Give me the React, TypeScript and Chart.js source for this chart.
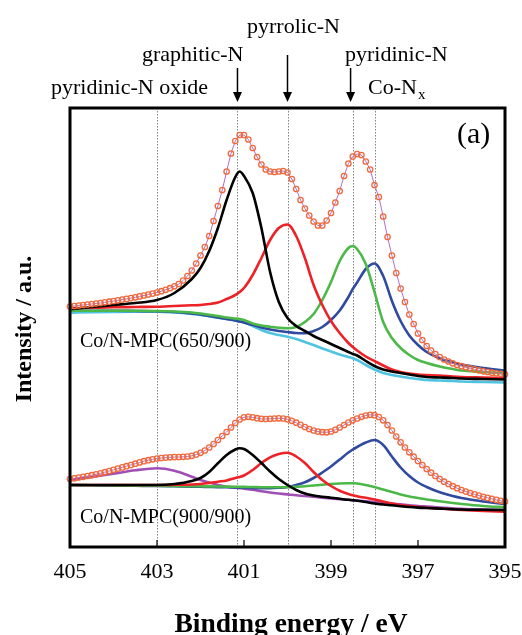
import React, { useEffect, useRef } from 'react';
import { Chart, registerables } from 'chart.js';

Chart.register(...registerables);

// Binding energy grid of the measured envelope (eV), 405 -> 395 every 0.1 eV
const energyFine: number[] = Array.from({ length: 101 }, (_, i) => Number((405 - i * 0.1).toFixed(1)));

// Energy grid of the fitted component curves (eV)
const energyFit: number[] = [405, 404.5, 404, 403.5, 403, 402.6, 402.2, 402.0, 401.8, 401.6, 401.4, 401.2, 401.1, 401.0, 400.8, 400.6, 400.4, 400.2, 400.0, 399.8, 399.6, 399.4, 399.2, 399.0, 398.8, 398.6, 398.5, 398.4, 398.2, 398.0, 397.8, 397.6, 397.4, 397.2, 397.0, 396.8, 396.5, 396.2, 396.0, 395.5, 395.0];

// Co/N-MPC(650/900) — measured envelope (a.u., offset)
const envelope650: number[] = [240.5, 241, 241.5, 242, 242.5, 243, 243.5, 244, 244.7, 245.3, 246, 246.7, 247.4, 248.1, 248.9, 249.7, 250.6, 251.5, 252.5, 253.4, 254.5, 255.8, 257.2, 258.8, 260.7, 263, 266.5, 271, 276.5, 283.5, 291.5, 300, 311, 326, 341, 357, 375.5, 393.5, 406, 412, 412, 407.5, 399, 390, 382.5, 377.5, 375.5, 375, 375.5, 376, 374.5, 368, 358, 347, 338.5, 331.5, 325.5, 321.5, 321.5, 326.5, 334, 344.5, 356, 371, 383.5, 390.5, 393, 392, 385.5, 377.5, 362, 350, 330.5, 310, 291.5, 274, 258.5, 245, 232.5, 223, 213.5, 207, 201, 196.5, 193, 190, 187.5, 185.5, 183.7, 182, 180.8, 179.7, 178.7, 177.7, 176.7, 175.7, 175, 174.3, 173.7, 173.2, 172.7];
const graphitic650: number[] = [237.7, 240, 242, 244, 247, 254, 268, 279, 296, 319, 347, 370, 375.5, 371, 354, 319, 275, 245, 229, 221, 216, 211, 207, 203, 199, 195, 193, 191.5, 186, 181, 177.5, 175.5, 174, 172.5, 171, 170, 169.5, 169, 168.5, 168, 167.5];
const pyrrolic650: number[] = [238.7, 239.2, 239.7, 240, 240.3, 241, 241.7, 242, 243, 244.5, 248, 252, 255, 259, 272, 289, 307, 319, 322.5, 311, 289, 262, 242, 226, 214, 204, 200, 196.5, 190.5, 186, 181.5, 177.5, 175, 173.5, 172.5, 172, 171.5, 170.5, 170, 169.5, 169];
const pyridinic650: number[] = [236.3, 236.3, 236.3, 236.3, 236, 235.5, 234.5, 233.5, 232.2, 231, 229.5, 228.5, 228, 227, 223.5, 221.5, 220.3, 219.2, 218.7, 220, 225, 233, 247, 265, 286, 299, 301, 298, 283, 255, 225, 209, 199, 192, 187, 184, 180.5, 178, 176.5, 175, 173.7];
const coNx650: number[] = [236.3, 236.3, 236.3, 236, 235.7, 235, 233.5, 232.5, 231, 229.5, 228, 226.5, 225.5, 224.5, 222, 219.5, 217.5, 216, 215, 214, 213.7, 216, 220, 227, 236.5, 250, 258, 264.5, 278, 283.5, 271, 246, 226, 211.5, 202, 195, 188.5, 184.5, 182.5, 179, 176.3];
const background650: number[] = [234.3, 234.7, 235, 235.2, 235.3, 234.5, 233, 232, 230.7, 229.2, 228, 226.5, 225.5, 224.5, 221, 217, 214, 212, 210.3, 208, 205, 202, 198.5, 195.5, 192.5, 190, 188.7, 187, 182, 177.5, 174, 172, 170.5, 169, 168, 167, 166.5, 166, 165.5, 165, 164.5];

// Co/N-MPC(900/900)
const envelope900: number[] = [68, 68.7, 69.5, 70.2, 71, 71.8, 72.7, 73.7, 74.8, 76, 77.2, 78.4, 79.6, 80.8, 82, 83.3, 84.6, 85.8, 86.8, 87.7, 88.5, 89, 89.4, 89.7, 89.9, 90, 90.2, 90.5, 91.2, 92.4, 94.2, 96.5, 99.5, 103, 107, 111, 115, 119.5, 124, 127.5, 129.7, 130.2, 129.7, 128.8, 128.2, 128, 128.2, 128.5, 128.7, 128.5, 127.7, 126.2, 124.3, 122.2, 120, 118, 116.5, 115.4, 114.8, 114.7, 115.5, 117.2, 119.5, 122, 124.5, 126.7, 128.5, 130.2, 131.5, 132.2, 131.8, 130, 126.7, 122, 116.5, 110.5, 104.7, 99.5, 94.7, 90.3, 86, 82, 78, 74.3, 71, 68, 65.3, 63, 60.8, 58.8, 57, 55.4, 54, 52.7, 51.4, 50.2, 49.1, 48.1, 47.1, 46.2, 45.4];
const graphitic900: number[] = [62, 62, 62, 62, 62, 63, 66, 69, 75, 83.7, 92, 97.5, 98.7, 98, 92, 84, 75.5, 68, 62, 57, 53.5, 51.5, 50.3, 49.3, 48.3, 47.2, 46.8, 46.3, 45, 43.5, 42.5, 41.7, 40.8, 40, 39.4, 39, 38.4, 37.8, 37.5, 37.2, 37];
const pyrrolic900: number[] = [62, 62, 62, 62, 62, 62.2, 62.5, 63, 64, 65.3, 66.5, 69, 70, 71.5, 77, 84, 89.7, 93, 94.3, 90.5, 84, 75, 67, 61, 56.3, 53, 51.7, 50.7, 49.2, 47.5, 45.5, 43.5, 42, 41, 40, 39.2, 38.5, 37.5, 37, 36, 35.3];
const pyridinic900: number[] = [62, 61.8, 61.6, 61.4, 61.2, 61, 60.8, 60.7, 60.6, 60.5, 60.4, 60.3, 60.2, 60.1, 60, 59.8, 59.7, 59.7, 59.8, 60.2, 60.7, 61.5, 62.3, 63, 63.5, 63.7, 63.7, 63.5, 62, 60, 57.5, 55, 52.5, 50.5, 49, 47.5, 45.7, 44, 43, 41, 39.7];
const coNx900: number[] = [62, 61.7, 61.4, 61.2, 61, 60.7, 60.4, 60.2, 60, 59.8, 59.7, 59.5, 59.4, 59.2, 59, 58.8, 58.8, 59.2, 60, 62, 64.7, 69, 74.5, 80.5, 87.5, 94.5, 97.5, 100, 104.5, 107, 102, 90.5, 79.5, 71, 64.5, 60, 54.7, 51, 49, 45.5, 43];
const oxide900: number[] = [67, 70, 73.3, 76.7, 78.7, 76.3, 70.3, 67, 64.5, 62, 60.3, 59.2, 58.8, 58.4, 57.2, 55.7, 54.5, 53.5, 52.6, 51.7, 51, 50.2, 49.4, 48.6, 47.9, 47.2, 46.8, 46.5, 45.8, 45, 44.2, 43.4, 42.6, 41.8, 41, 40.4, 39.5, 38.7, 38.2, 37.5, 37];

// Axis / annotation values
const xTickLabels: number[] = [405, 403, 401, 399, 397, 395];
const innerTicks: number[] = [403, 401, 399, 397];
const referenceLines: number[] = [403, 401.15, 400.0, 398.5, 398.0];
const arrowEnergies: number[] = [401.15, 400.0, 398.55];
const arrowTops: number[] = [68, 55, 68];

const FONT = '"Liberation Serif", "Times New Roman", serif';

const pts = (xs: number[], ys: number[]) => xs.map((x, i) => ({ x, y: ys[i] }));

export default function App() {
  const ref = useRef<HTMLCanvasElement | null>(null);

  useEffect(() => {
    const canvas = ref.current;
    if (!canvas) return;

    const comp = (data: number[], color: string) => ({
      data: pts(energyFit, data),
      borderColor: color,
      backgroundColor: color,
      borderWidth: 2.6,
      pointRadius: 0,
      cubicInterpolationMode: 'monotone' as const,
      fill: false,
    });
    const env = (data: number[]) => ({
      data: pts(energyFine, data),
      borderColor: '#b46cc8',
      backgroundColor: 'rgba(255,255,255,0)',
      borderWidth: 1,
      pointRadius: 2.7,
      pointBorderWidth: 1.3,
      pointBorderColor: '#f0693c',
      pointBackgroundColor: 'rgba(255,255,255,0)',
      tension: 0,
      fill: false,
      clip: false as any,
    });

    const deco = {
      id: 'deco',
      beforeDatasetsDraw(chart: any) {
        const { ctx, chartArea: a, scales } = chart;
        const xs = scales.x;
        ctx.save();
        ctx.strokeStyle = '#666';
        ctx.lineWidth = 0.8;
        ctx.setLineDash([1.5, 1.5]);
        referenceLines.forEach((e) => {
          const x = Math.round(xs.getPixelForValue(e)) + 0.5;
          ctx.beginPath();
          ctx.moveTo(x, a.top);
          ctx.lineTo(x, a.bottom);
          ctx.stroke();
        });
        ctx.restore();
      },
      afterDraw(chart: any) {
        const { ctx, chartArea: a, scales } = chart;
        const xs = scales.x;
        ctx.save();
        // inner ticks
        ctx.strokeStyle = '#000';
        ctx.lineWidth = 1.2;
        innerTicks.forEach((e) => {
          const x = xs.getPixelForValue(e);
          ctx.beginPath();
          ctx.moveTo(x, a.bottom);
          ctx.lineTo(x, a.bottom - 7);
          ctx.stroke();
        });
        // frame
        ctx.lineWidth = 3;
        ctx.strokeRect(a.left, a.top, a.right - a.left, a.bottom - a.top);
        // tick labels
        ctx.fillStyle = '#000';
        ctx.font = `22px ${FONT}`;
        ctx.textAlign = 'center';
        ctx.textBaseline = 'middle';
        xTickLabels.forEach((t) => {
          ctx.fillText(String(t), xs.getPixelForValue(t), 572);
        });
        // axis titles
        ctx.font = `bold 27.5px ${FONT}`;
        ctx.textBaseline = 'alphabetic';
        ctx.fillText('Binding energy / eV', 291, 632);
        ctx.save();
        ctx.font = `bold 24px ${FONT}`;
        ctx.translate(31, 329);
        ctx.rotate(-Math.PI / 2);
        ctx.fillText('Intensity / a.u.', 0, 0);
        ctx.restore();
        // arrows
        arrowEnergies.forEach((e, i) => {
          const x = xs.getPixelForValue(e);
          const tip = 102;
          ctx.lineWidth = 1.5;
          ctx.beginPath();
          ctx.moveTo(x, arrowTops[i]);
          ctx.lineTo(x, tip - 8);
          ctx.stroke();
          ctx.beginPath();
          ctx.moveTo(x - 4.5, tip - 10);
          ctx.lineTo(x + 4.5, tip - 10);
          ctx.lineTo(x, tip);
          ctx.closePath();
          ctx.fill();
        });
        // peak labels
        ctx.font = `22px ${FONT}`;
        ctx.textAlign = 'left';
        ctx.textBaseline = 'alphabetic';
        ctx.fillText('pyrrolic-N', 247, 33);
        ctx.fillText('graphitic-N', 142, 61);
        ctx.fillText('pyridinic-N', 345, 61);
        ctx.fillText('pyridinic-N oxide', 51, 94);
        ctx.fillText('Co-N', 368, 94);
        const w = ctx.measureText('Co-N').width;
        ctx.font = `15px ${FONT}`;
        ctx.fillText('x', 368 + w + 1, 99);
        // panel label
        ctx.font = `30px ${FONT}`;
        ctx.fillText('(a)', 457, 143);
        // sample names
        ctx.font = `20px ${FONT}`;
        ctx.fillText('Co/N-MPC(650/900)', 80, 347);
        ctx.fillText('Co/N-MPC(900/900)', 80, 523);
        ctx.restore();
      },
    };

    const chart = new Chart(canvas, {
      type: 'line',
      data: {
        datasets: [
          env(envelope650),
          env(envelope900),
          comp(graphitic650, '#000000'),
          comp(pyrrolic650, '#ec2227'),
          comp(pyridinic650, '#4cb848'),
          comp(coNx650, '#2f4a9f'),
          comp(background650, '#4fc3df'),
          comp(graphitic900, '#000000'),
          comp(pyrrolic900, '#ec2227'),
          comp(pyridinic900, '#4cb848'),
          comp(coNx900, '#2f4a9f'),
          comp(oxide900, '#a14fb5'),
        ] as any,
      },
      options: {
        responsive: false,
        maintainAspectRatio: false,
        animation: false,
        layout: { padding: { left: 70, right: 17, top: 108, bottom: 88 } },
        plugins: { legend: { display: false }, tooltip: { enabled: false } },
        scales: {
          x: { type: 'linear', display: false, reverse: true, min: 395, max: 405 },
          y: { type: 'linear', display: false, min: 0, max: 439 },
        },
      },
      plugins: [deco],
    });
    return () => chart.destroy();
  }, []);

  return (
    <div style={{ position: 'fixed', left: 0, top: 0, width: 522, height: 635, background: '#fff' }}>
      <canvas ref={ref} width={522} height={635} style={{ width: 522, height: 635, display: 'block' }} />
    </div>
  );
}
